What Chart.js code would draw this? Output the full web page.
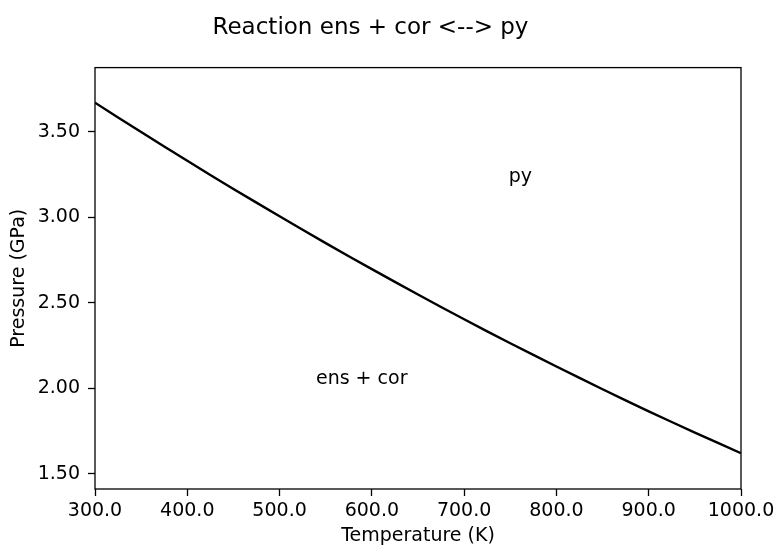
<!DOCTYPE html>
<html>
<head>
<meta charset="utf-8">
<script src="https://cdn.jsdelivr.net/npm/chart.js@4/dist/chart.umd.min.js"></script>
<style>
  html, body { margin: 0; padding: 0; background: #fff; }
</style>
</head>
<body>
<canvas id="reaction" width="776" height="546"></canvas>
<script>
// values
const temperatures = [300, 350, 400, 450, 500, 550, 600, 650, 700, 750, 800, 850, 900, 950, 1000];
const pressures = [3.670, 3.498, 3.330, 3.166, 3.006, 2.849, 2.697, 2.549, 2.404, 2.264, 2.128, 1.995, 1.866, 1.742, 1.621];
const xTicks = [300, 400, 500, 600, 700, 800, 900, 1000];
const yTicks = [1.5, 2.0, 2.5, 3.0, 3.5];
const fieldLabels = ["py", "ens + cor"];
const fieldT = [761, 589];
const fieldP = [3.236, 2.055];

const FONT = "DejaVu Sans";

/* frame round the plot area */
const framePlugin = {
  id: "frame",
  afterDraw(chart) {
    const { ctx, chartArea: a } = chart;
    ctx.save();
    ctx.strokeStyle = "#000";
    ctx.lineWidth = 1.3;
    ctx.strokeRect(a.left, a.top, a.right - a.left, a.bottom - a.top);
    ctx.restore();
  }
};

/* phase field names */
const fieldPlugin = {
  id: "fields",
  afterDatasetsDraw(chart) {
    const { ctx, scales } = chart;
    ctx.save();
    ctx.font = "19px '" + FONT + "'";
    ctx.fillStyle = "#000";
    ctx.textAlign = "center";
    ctx.textBaseline = "middle";
    fieldLabels.forEach((t, i) => {
      ctx.fillText(t, scales.x.getPixelForValue(fieldT[i]), scales.y.getPixelForValue(fieldP[i]));
    });
    ctx.restore();
  }
};

new Chart(document.getElementById("reaction").getContext("2d"), {
  type: "line",
  data: {
    datasets: [{
      data: temperatures.map((t, i) => ({ x: t, y: pressures[i] })),
      borderColor: "#000",
      borderWidth: 2.4,
      pointRadius: 0,
      tension: 0.3,
      fill: false
    }]
  },
  options: {
    responsive: false,
    animation: false,
    layout: { padding: { left: 0, right: 35, top: 0, bottom: 0 } },
    plugins: {
      legend: { display: false },
      tooltip: { enabled: false },
      title: {
        display: true,
        text: "Reaction ens + cor <--> py",
        color: "#000",
        font: { family: FONT, size: 23, weight: "normal", lineHeight: 1.2 },
        padding: { top: 14, bottom: 26 }
      }
    },
    scales: {
      x: {
        type: "linear",
        min: 300,
        max: 1000,
        afterBuildTicks: s => { s.ticks = xTicks.map(v => ({ value: v })); },
        afterFit: s => { s.height = 57; s.paddingLeft = 0; s.paddingRight = 0; },
        border: { display: false },
        grid: { drawOnChartArea: false, drawTicks: true, tickLength: 7, tickWidth: 1.3, tickColor: "#000" },
        ticks: {
          color: "#000",
          padding: 4,
          maxRotation: 0,
          font: { family: FONT, size: 19 },
          callback: v => Number(v).toFixed(1)
        },
        title: {
          display: true,
          text: "Temperature (K)",
          color: "#000",
          font: { family: FONT, size: 19, lineHeight: 1 },
          padding: { top: 0, bottom: 0 }
        }
      },
      y: {
        type: "linear",
        min: 1.412,
        max: 3.875,
        afterBuildTicks: s => { s.ticks = yTicks.map(v => ({ value: v })); },
        afterFit: s => { s.width = 95; s.paddingTop = 0; s.paddingBottom = 0; },
        border: { display: false },
        grid: { drawOnChartArea: false, drawTicks: true, tickLength: 7, tickWidth: 1.3, tickColor: "#000" },
        ticks: {
          color: "#000",
          padding: 8,
          font: { family: FONT, size: 19 },
          callback: v => Number(v).toFixed(2)
        },
        title: {
          display: true,
          text: "Pressure (GPa)",
          color: "#000",
          font: { family: FONT, size: 19, lineHeight: 1 },
          padding: { top: 10, bottom: 0 }
        }
      }
    }
  },
  plugins: [framePlugin, fieldPlugin]
});
</script>
</body>
</html>
